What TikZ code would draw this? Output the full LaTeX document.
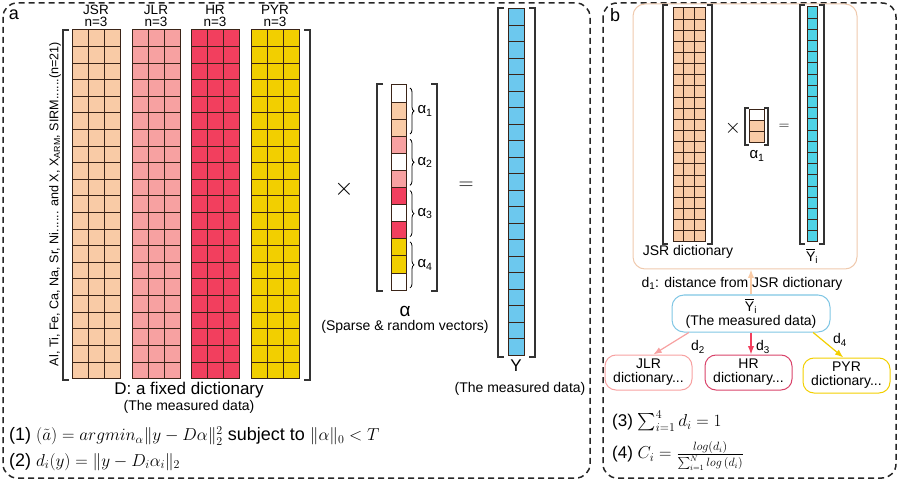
\documentclass[tikz,border=0pt]{standalone}
\usepackage{fontspec}
\setmainfont{Liberation Sans}
\usepackage{amsmath}
\usetikzlibrary{arrows.meta,decorations.pathreplacing}
\definecolor{jsr}{HTML}{F9CBA6}
\definecolor{jlr}{HTML}{F7A1A1}
\definecolor{hr}{HTML}{F23F5E}
\definecolor{pyr}{HTML}{F2CF00}
\definecolor{yblue}{HTML}{6CC8EE}
\definecolor{ycyan}{HTML}{4FD3E6}
\definecolor{gridc}{HTML}{3A2418}
\definecolor{boxjsr}{HTML}{EFC9AD}
\definecolor{boxy}{HTML}{80C6E4}
\definecolor{boxhr}{HTML}{D9436A}
\begin{document}
\begin{tikzpicture}[>=Latex, x=1pt, y=-1pt,
  cell/.style={draw=gridc, line width=1pt},
  brk/.style={draw=black!80, line width=1.1pt},
  panel/.style={draw=black!85, line width=1.5pt, dash pattern=on 6pt off 4pt, rounded corners=14pt},
  lbl/.style={font=\fontsize{14}{14}\selectfont, align=center},
  meas/.style={font=\fontsize{14}{14}\selectfont},
  eqn/.style={font=\fontsize{18}{18}\selectfont, anchor=west, inner sep=1pt},
  dbox/.style={draw, line width=1pt, rounded corners=11pt, minimum width=87, minimum height=35, inner sep=1pt, align=center, font=\fontsize{14}{14}\selectfont}]
\useasboundingbox (0,0) rectangle (900,481);
% panels
\draw[panel] (3,3) rectangle (590,478);
\draw[panel] (603,3) rectangle (896,478);
\node[font=\fontsize{18}{18}\selectfont] (pa) at (14,15) {a};
\node[font=\fontsize{18}{18}\selectfont] (pb) at (615,15) {b};
% fixed dictionary D
\foreach \bx/\col/\lab in {72/jsr/JSR, 132/jlr/JLR, 191/hr/HR, 251/pyr/PYR} {
  \foreach \c in {0,1,2}
    \foreach \r in {0,...,20}
      \draw[cell, fill=\col] (\bx+\c*16, 30+\r*16.6) rectangle ++(16,16.6);
  \node[font=\fontsize{13.5}{11.5}\selectfont, align=center, inner sep=0pt] (h\lab) at (\bx+24, 16) {\lab\\n=3};
}
\draw[brk] (69,30) -- (63,30) -- (63,380) -- (69,380);
\draw[brk] (304,30) -- (310,30) -- (310,380) -- (304,380);
\node[rotate=90, font=\fontsize{12.6}{12.6}\selectfont] (elem) at (55,204)
  {Al, Ti, Fe, Ca, Na, Sr, Ni...... and X, X\textsubscript{ARM}, SIRM......(n=21)};
\node[font=\fontsize{17}{17}\selectfont, inner sep=1pt] (dname) at (189,390) {D: a fixed dictionary};
\node[meas, inner sep=1pt] (dmeas) at (189,407) {(The measured data)};
% sparse vector alpha
\node[font=\fontsize{30}{30}\selectfont] (times) at (344,189) {$\times$};
\foreach \col [count=\r from 0] in {white,jsr,jsr,jlr,white,jlr,hr,white,hr,pyr,pyr,white}
  \draw[cell, fill=\col] (391, 85+\r*17.1) rectangle ++(15,17.1);
\draw[brk] (383,84) -- (377,84) -- (377,291) -- (383,291);
\draw[brk] (431,84) -- (437,84) -- (437,291) -- (431,291);
\foreach \k in {1,2,3,4} {
  \draw[decorate, decoration={brace, amplitude=4pt}, line width=0.8pt]
    (410, 88+\k*51.3-51.3) -- (410, 134+\k*51.3-51.3);
  \node[font=\fontsize{15}{15}\selectfont, anchor=west] (a\k) at (414, 111+\k*51.3-51.3) {α\textsubscript{\k}};
}
\node[font=\fontsize{19}{19}\selectfont] (alpha) at (405,311) {α};
\node[meas] (avec) at (405,327) {(Sparse \& random vectors)};
\node[font=\fontsize{22}{22}\selectfont] (eq) at (466,186) {$=$};
% measured data Y
\foreach \r in {0,...,20}
  \draw[cell, fill=yblue] (508, 9+\r*16.48) rectangle ++(16,16.48);
\draw[brk] (504,8) -- (498,8) -- (498,357) -- (504,357);
\draw[brk] (529,8) -- (535,8) -- (535,357) -- (529,357);
\node[font=\fontsize{17}{17}\selectfont] (yname) at (516,366) {Y};
\node[meas] (ymeas) at (520,389) {(The measured data)};
% equations (1) and (2)
\node[eqn] (eq1) at (8,436)
  {(1) $(\tilde{a}) = argmin_{\alpha}\lVert y-D\alpha\rVert_2^2$ subject to $\lVert\alpha\rVert_0<T$};
\node[eqn] (eq2) at (8,462)
  {(2) $d_i(y)=\lVert y-D_i\alpha_i\rVert_2$};
% panel b: JSR dictionary
\node[draw=boxjsr, line width=1pt, rounded corners=12pt, minimum width=224, minimum height=265] (jsrbox) at (745,136.5) {};
\foreach \c in {0,1,2}
  \foreach \r in {0,...,20}
    \draw[cell, fill=jsr] (673+\c*10.7, 8+\r*11.14) rectangle ++(10.7,11.14);
\draw[brk] (668,5) -- (663,5) -- (663,244) -- (668,244);
\draw[brk] (707,5) -- (712,5) -- (712,244) -- (707,244);
\node[lbl] (jsrname) at (688,252) {JSR dictionary};
\node[font=\fontsize{22}{22}\selectfont] (btimes) at (733,128) {$\times$};
\foreach \col [count=\r from 0] in {white,jsr,jsr}
  \draw[cell, fill=\col] (749, 110+\r*11) rectangle ++(15,11);
\draw[brk] (749,108) -- (745,108) -- (745,145) -- (749,145);
\draw[brk] (764,108) -- (768,108) -- (768,145) -- (764,145);
\node[font=\fontsize{15}{15}\selectfont] (ba1) at (757,156) {α\textsubscript{1}};
\node[font=\fontsize{15}{15}\selectfont] (beq) at (784,127) {$=$};
\foreach \r in {0,...,20}
  \draw[cell, fill=ycyan] (807, 7+\r*11.19) rectangle ++(10.5,11.19);
\draw[brk] (805,5) -- (800,5) -- (800,244) -- (805,244);
\draw[brk] (819,5) -- (824,5) -- (824,244) -- (819,244);
\node[lbl] (yiname) at (812,256) {$\overline{\mbox{Y}}$\textsubscript{i}};
% distances to the dictionaries
\node[draw=boxy, line width=1pt, rounded corners=12pt, minimum width=158, minimum height=37, inner sep=1pt, lbl] (ybox) at (751,313.5)
  {$\overline{\mbox{Y}}$\textsubscript{i}\\(The measured data)};
\draw[->, draw=jsr, line width=1.2pt] (ybox.north) -- (ybox.north |- jsrbox.south);
\node[lbl, inner sep=0.5pt] (d1) at (742,284) {d\textsubscript{1}: distance from JSR dictionary};
\node[dbox, draw=jlr] (jlrbox) at (648.5,372.5) {JLR\\dictionary...};
\node[dbox, draw=boxhr] (hrbox) at (748.5,372.5) {HR\\dictionary...};
\node[dbox, draw=pyr] (pyrbox) at (846.5,375.5) {PYR\\dictionary...};
\draw[->, draw=jlr, line width=1.2pt] (ybox.197) -- (jlrbox.75);
\draw[->, draw=hr, line width=1.2pt] (ybox.south) -- (ybox.south |- hrbox.north);
\draw[->, draw=pyr, line width=1.2pt] (ybox.-17) -- (pyrbox.100);
\node[lbl] (d2) at (698,347) {d\textsubscript{2}};
\node[lbl] (d3) at (763,347) {d\textsubscript{3}};
\node[lbl] (d4) at (840,340) {d\textsubscript{4}};
% equations (3) and (4)
\node[eqn, font=\fontsize{17}{17}\selectfont] (eq3) at (611,421)
  {(3) $\sum_{i=1}^{4} d_i = 1$};
\node[eqn, font=\fontsize{17}{17}\selectfont] (eq4) at (611,456)
  {(4) $C_i = \frac{log(d_i)}{\sum_{i=1}^{N} log\,(d_i)}$};
\end{tikzpicture}
\end{document}
